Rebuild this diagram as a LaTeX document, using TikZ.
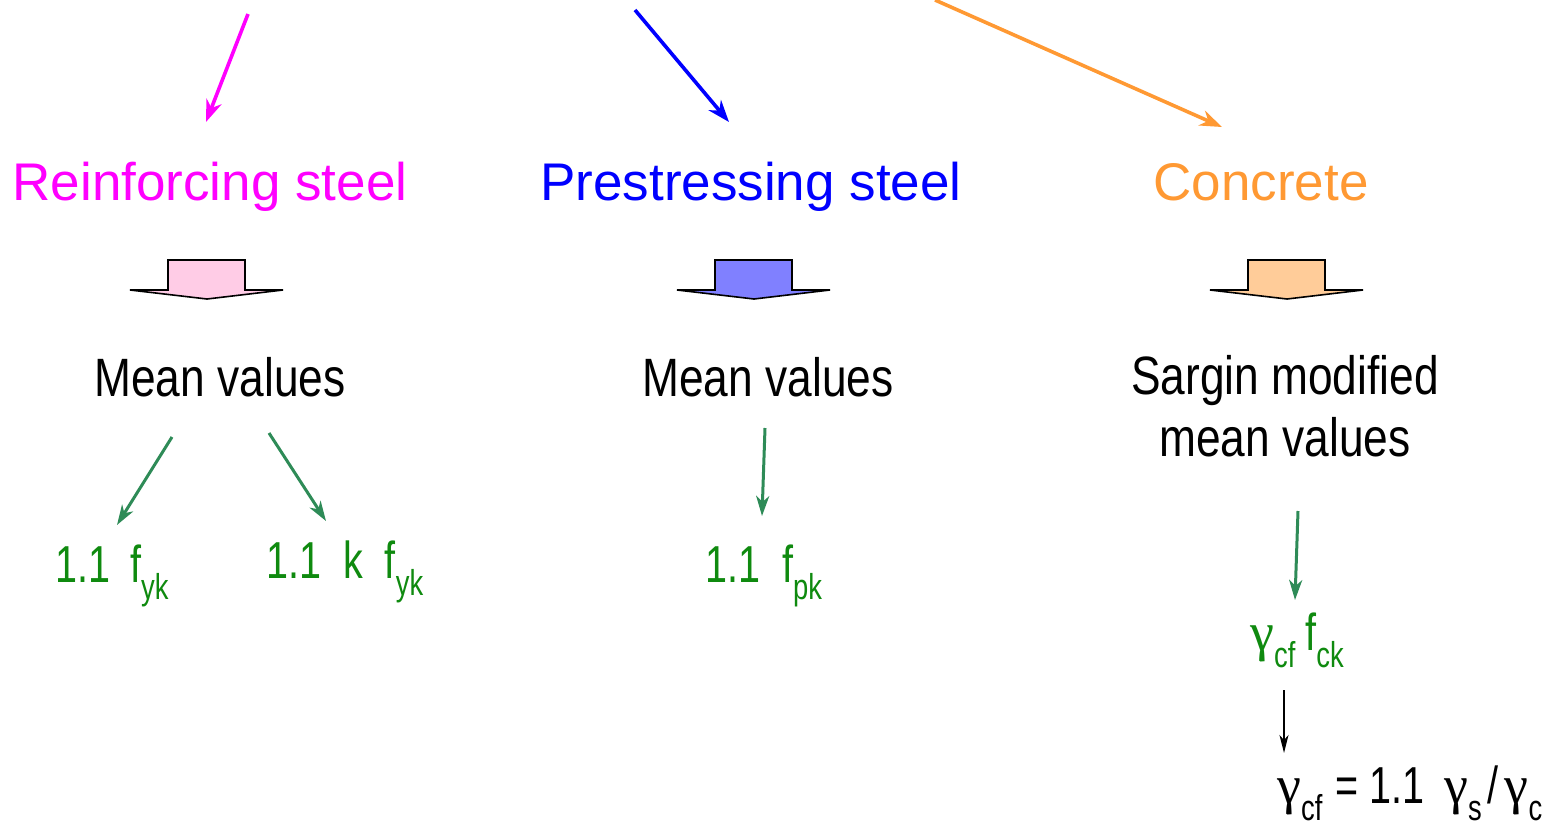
\documentclass[tikz,border=0pt]{standalone}
\usepackage{fontspec}
\setmainfont{Liberation Sans}
\newfontfamily\narrowsans[FakeStretch=0.82]{Liberation Sans}
\newfontfamily\formulasans[FakeStretch=0.76]{Liberation Sans}
\newfontfamily\greekserif{Liberation Serif}
\usetikzlibrary{arrows.meta}

\definecolor{magentaline}{HTML}{FF00FF}
\definecolor{blueline}{HTML}{0000FF}
\definecolor{orangeline}{HTML}{FF9933}
\definecolor{greentext}{HTML}{0F8A0F}
\definecolor{greenline}{HTML}{2E8B57}
\definecolor{pinkfill}{HTML}{FFCCE6}
\definecolor{bluefill}{HTML}{8080FF}
\definecolor{orangefill}{HTML}{FFCC99}

% lowered, smaller subscript used in the formulas
\newcommand\lowsub[1]{\raisebox{-17pt}{\fontsize{36}{36}\selectfont #1}}
\newcommand\gam{{\greekserif\fontsize{54}{54}\selectfont γ}}

\tikzset{
  material/.style={font=\fontsize{53}{60}\selectfont, inner sep=0pt, anchor=base},
  result/.style={font=\narrowsans\fontsize{54}{64}\selectfont, inner sep=0pt, align=center},
  formula/.style={font=\formulasans\fontsize{52}{60}\selectfont, text=greentext, inner sep=0pt, anchor=base west},
  feed/.style={line width=3.6pt, -{Stealth[length=22pt, width=16pt, inset=7pt]}},
  derive/.style={line width=3pt, draw=greenline, -{Stealth[length=20pt, width=13pt, inset=6pt]}},
  thin/.style={line width=1.5pt, -{Stealth[length=18pt, width=9pt, inset=5pt]}},
  blockdown/.pic={
    \draw[pic actions] (-39,-30) -- (38,-30) -- (38,0) -- (76,0) -- (0,9)
      -- (-77,0) -- (-39,0) -- cycle;
  },
}

\begin{document}
\begin{tikzpicture}[x=1pt, y=-1pt]
  \useasboundingbox (0,0) rectangle (1551,830);

  % material headings
  \node[material, text=magentaline] (rs) at (210,200) {Reinforcing steel};
  \node[material, text=blueline] (ps) at (751,200) {Prestressing steel};
  \node[material, text=orangeline] (cc) at (1261,200) {Concrete};

  % incoming arrows
  \coordinate (rsin) at (248,14);
  \coordinate (rstip) at (206,122);
  \coordinate (psin) at (635,10);
  \coordinate (pstip) at (729,122);
  \coordinate (ccin) at (935,0);
  \coordinate (cctip) at (1222,127);
  \draw[feed, draw=magentaline] (rsin) -- (rstip);
  \draw[feed, draw=blueline] (psin) -- (pstip);
  \draw[feed, draw=orangeline] (ccin) -- (cctip);

  % block arrows
  \pic[fill=pinkfill, draw=black, line width=1.6pt] (ba1) at (207,290) {blockdown};
  \pic[fill=bluefill, draw=black, line width=1.6pt] (ba2) at (754,290) {blockdown};
  \pic[fill=orangefill, draw=black, line width=1.6pt] (ba3) at (1287,290) {blockdown};

  % results
  \node[result] (mv1) at (220,377) {Mean values};
  \node[result] (mv2) at (768,377) {Mean values};
  \node[result] (smv) at (1285,406) {Sargin modified\\[-2pt]mean values};

  % design formulas
  \node[formula] (f1) at (55,582) {1.1\hspace{20pt}f\lowsub{yk}};
  \node[formula] (f2) at (266,578) {1.1\hspace{22pt}k\hspace{22pt}f\lowsub{yk}};
  \node[formula] (f3) at (705,582) {1.1\hspace{22pt}f\lowsub{pk}};
  \node[formula] (f4) at (1250,650) {\gam\lowsub{cf}\hspace{10pt}f\lowsub{ck}};
  \node[formula, text=black] (f5) at (1277,803) {\gam\lowsub{cf}\hspace{2pt} = 1.1\hspace{20pt}\gam\lowsub{s}\hspace{6pt}/\hspace{6pt}\gam\lowsub{c}};

  % derivation arrows
  \coordinate (a1s) at (172,437); \coordinate (a1e) at (117,525);
  \coordinate (a2s) at (269,433); \coordinate (a2e) at (326,521);
  \coordinate (a3s) at (765,428); \coordinate (a3e) at (762,516);
  \coordinate (a4s) at (1298,511); \coordinate (a4e) at (1295,600);
  \coordinate (a5s) at (1284,690); \coordinate (a5e) at (1284,753);
  \draw[derive] (a1s) -- (a1e);
  \draw[derive] (a2s) -- (a2e);
  \draw[derive] (a3s) -- (a3e);
  \draw[derive] (a4s) -- (a4e);
  \draw[thin] (a5s) -- (a5e);
\end{tikzpicture}
\end{document}
